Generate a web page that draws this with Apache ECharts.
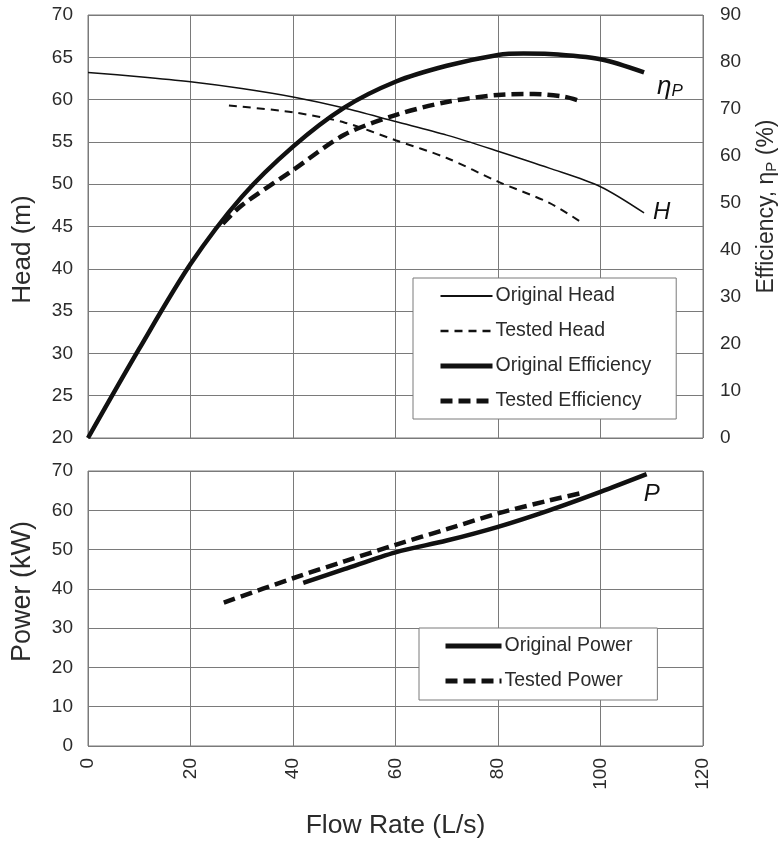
<!DOCTYPE html>
<html>
<head>
<meta charset="utf-8">
<script src="https://cdn.jsdelivr.net/npm/echarts@6/dist/echarts.min.js"></script>
<style>
  html, body { margin: 0; padding: 0; background: #fff; }
  #chart { width: 783px; height: 842px; }
</style>
</head>
<body>
<div id="chart"></div>
<script>
// flow rate (L/s) for each curve
const origHeadFlow = [0, 10, 20, 30, 40, 50, 60, 70, 80, 90, 100, 108.5];
const origHead = [63.2, 62.7, 62.1, 61.3, 60.3, 59.0, 57.4, 55.8, 53.9, 51.9, 49.7, 46.6];

const testHeadFlow = [27.5, 40, 50, 60, 70, 80, 90, 96];
const testHead = [59.3, 58.5, 57.3, 55.2, 53.1, 50.3, 47.8, 45.6];

const origEffFlow = [0, 10, 20, 30, 40, 50, 60, 70, 80, 85, 90, 100, 108.5];
const origEff = [0, 19, 37, 51.3, 62, 70.3, 75.8, 79.2, 81.5, 81.8, 81.7, 80.6, 77.8];

const testEffFlow = [26.3, 30, 40, 50, 60, 70, 80, 87, 93, 96];
const testEff = [45.6, 49.5, 57, 64.5, 68.7, 71.5, 73, 73.2, 72.6, 71.7];

const origPowerFlow = [42, 50, 60, 70, 80, 90, 100, 109];
const origPower = [41.5, 45, 49.3, 52.3, 55.8, 60, 64.7, 69.2];

const testPowerFlow = [26.5, 40, 50, 60, 70, 80, 90, 96];
const testPower = [36.5, 42.7, 47, 51.2, 55.2, 59.2, 62.5, 64.3];

const topLegend = ['Original Head', 'Tested Head', 'Original Efficiency', 'Tested Efficiency'];
const bottomLegend = ['Original Power', 'Tested Power'];

const zip = (xs, ys) => xs.map((x, i) => [x, ys[i]]);

const font = '"Liberation Sans", Arial, sans-serif';
const gridColor = '#7a7a7a';
const textColor = '#2b2b2b';
const ink = '#111';

// line look per series name, shared by the plot and the legend
const looks = {
    'Original Head': { width: 1.5, type: 'solid' },
    'Tested Head': { width: 2, type: [8, 6] },
    'Original Efficiency': { width: 4.5, type: 'solid' },
    'Tested Efficiency': { width: 4.5, type: [12, 6] },
    'Original Power': { width: 4.5, type: 'solid' },
    'Tested Power': { width: 4.5, type: [12, 6] }
};

function xAxisFor(gridIndex, withLabels) {
    return {
        type: 'value',
        gridIndex: gridIndex,
        min: 0,
        max: 120,
        interval: 20,
        axisLine: { show: false },
        axisTick: { show: false },
        axisLabel: {
            show: withLabels,
            rotate: 90,
            margin: 12,
            fontSize: 19,
            fontFamily: font,
            color: textColor
        },
        splitLine: { lineStyle: { color: gridColor, width: 1 } },
        name: withLabels ? 'Flow Rate (L/s)' : '',
        nameLocation: 'middle',
        nameGap: 66,
        nameTextStyle: { fontSize: 26.5, fontFamily: font, color: textColor, verticalAlign: 'top' }
    };
}

function lineSeries(name, xAxisIndex, yAxisIndex, data) {
    return {
        name: name,
        type: 'line',
        xAxisIndex: xAxisIndex,
        yAxisIndex: yAxisIndex,
        data: data,
        smooth: 0.3,
        symbol: 'none',
        color: ink,
        lineStyle: {
            color: ink,
            width: looks[name].width,
            type: looks[name].type,
            cap: 'butt'
        },
        emphasis: { disabled: true }
    };
}

function legendBox(names, left, top, padding, itemWidth) {
    return {
        data: names.map((n) => ({
            name: n,
            lineStyle: { width: looks[n].width + 0.5, type: looks[n].type, color: ink }
        })),
        orient: 'vertical',
        left: left,
        top: top,
        padding: padding,
        itemWidth: itemWidth,
        itemHeight: 14,
        itemGap: 15,
        backgroundColor: '#fff',
        borderColor: gridColor,
        borderWidth: 1,
        selectedMode: false,
        itemStyle: { opacity: 0 },
        textStyle: { fontSize: 19.5, fontFamily: font, color: textColor, padding: [0, 0, 0, -2] }
    };
}

const chart = echarts.init(document.getElementById('chart'));

const origHeadSeries = lineSeries('Original Head', 0, 0, zip(origHeadFlow, origHead));
origHeadSeries.endLabel = {
    show: true,
    formatter: 'H',
    fontSize: 24,
    fontStyle: 'italic',
    fontFamily: font,
    color: ink,
    offset: [1, -1]
};

const origEffSeries = lineSeries('Original Efficiency', 0, 1, zip(origEffFlow, origEff));
origEffSeries.endLabel = {
    show: true,
    formatter: '{a|η}{b|P}',
    offset: [5, 14],
    rich: {
        a: { fontSize: 26, fontStyle: 'italic', fontFamily: font, color: ink },
        b: { fontSize: 17, fontStyle: 'italic', fontFamily: font, color: ink, padding: [10, 0, 0, 0] }
    }
};

const origPowerSeries = lineSeries('Original Power', 1, 2, zip(origPowerFlow, origPower));
origPowerSeries.endLabel = {
    show: true,
    formatter: 'P',
    fontSize: 24,
    fontStyle: 'italic',
    fontFamily: font,
    color: ink,
    offset: [-11, 20]
};

chart.setOption({
    animation: false,
    backgroundColor: '#fff',
    textStyle: { fontFamily: font },
    grid: [
        { left: 88, top: 15, width: 615, height: 423, show: true, borderColor: gridColor, borderWidth: 1,
          containLabel: false, outerBoundsMode: 'none' },
        { left: 88, top: 471, width: 615, height: 275, show: true, borderColor: gridColor, borderWidth: 1,
          containLabel: false, outerBoundsMode: 'none' }
    ],
    xAxis: [xAxisFor(0, false), xAxisFor(1, true)],
    yAxis: [
        {
            type: 'value',
            gridIndex: 0,
            min: 20,
            max: 70,
            interval: 5,
            axisLine: { show: false },
            axisTick: { show: false },
            axisLabel: { fontSize: 19, margin: 15, fontFamily: font, color: textColor },
            splitLine: { lineStyle: { color: gridColor, width: 1 } },
            name: 'Head (m)',
            nameLocation: 'middle',
            nameGap: 52,
            nameTextStyle: { fontSize: 26, fontFamily: font, color: textColor, padding: [0, 46, 0, 0] }
        },
        {
            type: 'value',
            gridIndex: 0,
            position: 'right',
            min: 0,
            max: 90,
            interval: 10,
            axisLine: { show: false },
            axisTick: { show: false },
            axisLabel: { fontSize: 19, margin: 17, fontFamily: font, color: textColor },
            splitLine: { show: false },
            name: '{t|Efficiency, η}{s|P}{t| (%)}',
            nameLocation: 'middle',
            nameGap: 52,
            nameTextStyle: {
                color: textColor,
                padding: [0, 0, 0, 40],
                rich: {
                    t: { fontSize: 23, fontFamily: font, color: textColor },
                    s: { fontSize: 15, fontFamily: font, color: textColor, padding: [9, 0, 0, 0] }
                }
            }
        },
        {
            type: 'value',
            gridIndex: 1,
            min: 0,
            max: 70,
            interval: 10,
            axisLine: { show: false },
            axisTick: { show: false },
            axisLabel: { fontSize: 19, margin: 15, fontFamily: font, color: textColor },
            splitLine: { lineStyle: { color: gridColor, width: 1 } },
            name: 'Power (kW)',
            nameLocation: 'middle',
            nameGap: 52,
            nameTextStyle: { fontSize: 27, fontFamily: font, color: textColor, padding: [0, 0, 0, 34] }
        }
    ],
    legend: [
        legendBox(topLegend, 413, 278, [8, 25, 8, 25], 52),
        legendBox(bottomLegend, 419, 628, [8, 25, 9, 24], 56)
    ],
    series: [
        origHeadSeries,
        lineSeries('Tested Head', 0, 0, zip(testHeadFlow, testHead)),
        origEffSeries,
        lineSeries('Tested Efficiency', 0, 1, zip(testEffFlow, testEff)),
        origPowerSeries,
        lineSeries('Tested Power', 1, 2, zip(testPowerFlow, testPower))
    ]
});
</script>
</body>
</html>
